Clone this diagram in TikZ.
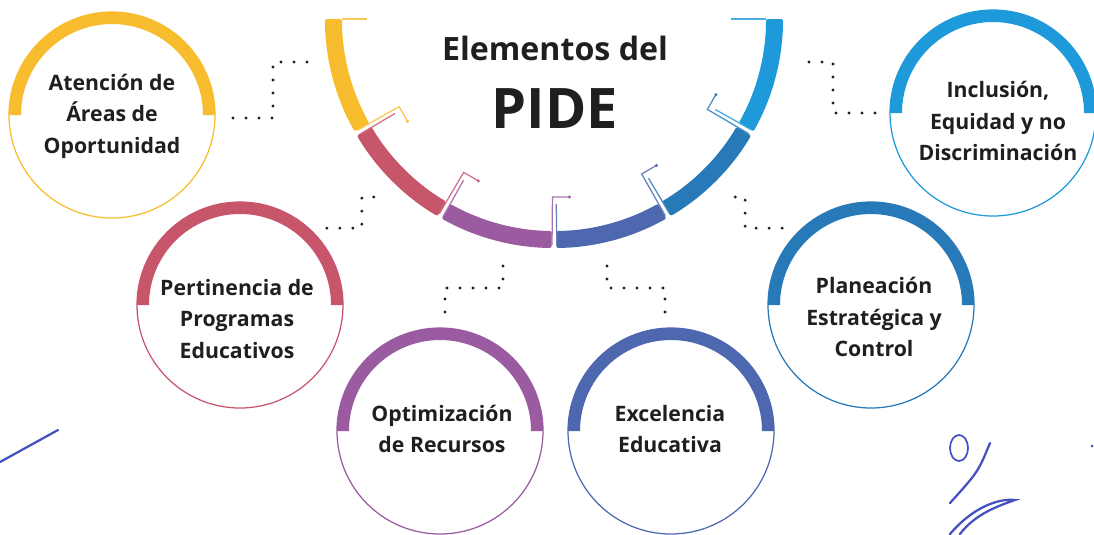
\documentclass[tikz,border=0pt]{standalone}
\usepackage{fontspec}
\setmainfont{Open Sans}
\usepackage{xcolor}
\usepackage{tikz}
\definecolor{amarillo}{HTML}{F7BD2E}
\definecolor{rosa}{HTML}{C8566B}
\definecolor{morado}{HTML}{9A5BA0}
\definecolor{azulm}{HTML}{4E68B0}
\definecolor{azul}{HTML}{2879B8}
\definecolor{celeste}{HTML}{1E9ADA}
\definecolor{tinta}{HTML}{1F1F1F}
\definecolor{pluma}{HTML}{4650C0}

\begin{document}
\begin{tikzpicture}[
		x=0.2mm, y=0.2mm,
		aro/.style={circle, draw, line width=0.25mm, minimum size=41.2mm, inner sep=0pt, outer sep=0pt},
		texto/.style={align=center, text=tinta, font=\fontsize{12.1}{17.9}\selectfont\bfseries},
		puntos/.style={draw=tinta, line width=0.65mm, line cap=round, dash pattern=on 0pt off 2.6mm},
		gancho/.style={line width=0.25mm},
		trazo/.style={draw=pluma, line width=0.45mm, line cap=round}]
		\useasboundingbox (0,0) rectangle (1094,-534);

		% semicirculo central
		\coordinate (centro) at (554,-19);
		\foreach \a/\b/\c in {180/209.4/amarillo, 210.6/239.4/rosa, 240.6/269.4/morado, 270.6/299.4/azulm, 300.6/329.4/azul, 330.6/360/celeste}
			\fill[\c, rounded corners=0.4mm] ([shift={(\a:229)}]centro) arc[start angle=\a, end angle=\b, radius=229]
				-- ([shift={(\b:212)}]centro) arc[start angle=\b, end angle=\a, radius=212] -- cycle;
		\foreach \a/\ca/\cb in {210/amarillo/rosa, 240/rosa/morado, 270/morado/azulm, 300/azulm/azul, 330/azul/celeste}{
			\draw[gancho, \ca!85] ([shift={(\a-0.5:226)}]centro) -- ([shift={(\a-0.5:178)}]centro) -- ++(\a+90:17) coordinate (g);
			\fill[\ca] (g) circle (1.6);
			\draw[gancho, \cb!85] ([shift={(\a+0.7:226)}]centro) -- ([shift={(\a+0.7:185)}]centro);
		}
		\draw[gancho, amarillo!80] ([shift={(180:212)}]centro) -- ++(25,0);
		\draw[gancho, celeste!80] ([shift={(0:212)}]centro) -- ++(-35,0);
		\node[text=tinta, font=\fontsize{18.3}{20}\selectfont\bfseries, anchor=base] (titulo) at (555,-60) {Elementos del};
		\node[text=tinta, font=\fontsize{31.8}{36}\selectfont\bfseries, anchor=base] (pide) at (555,-128) {PIDE};

		% circulos
		\node[aro, draw=amarillo] (atencion) at (112,-115) {};
		\node[aro, draw=rosa] (pertinencia) at (240,-305) {};
		\node[aro, draw=morado] (optimizacion) at (440,-431) {};
		\node[aro, draw=azulm] (excelencia) at (671,-431) {};
		\node[aro, draw=azul] (planeacion) at (871,-305) {};
		\node[aro, draw=celeste] (inclusion) at (993,-113) {};
		\fill[amarillo] (atencion.west) arc[start angle=180, end angle=0, radius=103] -- ++(-12,0) arc[start angle=0, end angle=180, radius=91] -- cycle;
		\fill[rosa] (pertinencia.west) arc[start angle=180, end angle=0, radius=103] -- ++(-12,0) arc[start angle=0, end angle=180, radius=91] -- cycle;
		\fill[morado] (optimizacion.west) arc[start angle=180, end angle=0, radius=103] -- ++(-12,0) arc[start angle=0, end angle=180, radius=91] -- cycle;
		\fill[azulm] (excelencia.west) arc[start angle=180, end angle=0, radius=103] -- ++(-12,0) arc[start angle=0, end angle=180, radius=91] -- cycle;
		\fill[azul] (planeacion.west) arc[start angle=180, end angle=0, radius=103] -- ++(-12,0) arc[start angle=0, end angle=180, radius=91] -- cycle;
		\fill[celeste] (inclusion.west) arc[start angle=180, end angle=0, radius=103] -- ++(-12,0) arc[start angle=0, end angle=180, radius=91] -- cycle;

		\node[texto] (atencionT) at (112,-116) {Atención de\\Áreas de\\Oportunidad};
		\node[texto] (pertinenciaT) at (237,-319) {Pertinencia de\\Programas\\Educativos};
		\node[texto] (optimizacionT) at (442,-429) {Optimización\\de Recursos};
		\node[texto] (excelenciaT) at (670,-429) {Excelencia\\Educativa};
		\node[texto] (planeacionT) at (874,-317) {Planeación\\Estratégica y\\Control};
		\node[texto] (inclusionT) at (998,-121) {Inclusión,\\Equidad y no\\Discriminación};

		% conectores punteados
		\coordinate (pA) at (310,-62);
		\coordinate (pB) at (385,-197);
		\coordinate (pC) at (503,-262);
		\coordinate (pD) at (607,-262);
		\coordinate (pE) at (725,-197);
		\coordinate (pF) at (797,-62);
		\draw[puntos] ([shift={(18,-3)}]atencion.east) -- ++(40,0) |- (pA);
		\draw[puntos] ([shift={(14,4)}]pertinencia.north east) -- ++(35,0) |- (pB);
		\draw[puntos] ([shift={(5,16)}]optimizacion.north) -- ++(0,24) -| (pC);
		\draw[puntos] ([shift={(-6,16)}]excelencia.north) -- ++(0,24) -| (pD);
		\draw[puntos] ([shift={(-16,4)}]planeacion.north west) -- ++(-37,0) |- (pE);
		\draw[puntos] ([shift={(-15,0)}]inclusion.west) -- ++(-42,0) |- (pF);

		% trazos de pluma
		\draw[trazo] (0,-462) -- (58,-430);
		\draw[trazo, line width=0.35mm] (959,-448) ellipse[x radius=9, y radius=13];
		\draw[trazo] (990,-443) .. controls (978,-472) .. (950,-503);
		\draw[trazo] (950,-534) .. controls (972,-508) and (998,-498) .. (1015,-500) .. controls (998,-506) and (975,-514) .. (960,-534);
		\fill[pluma] (1092,-446) circle (1.5);
	\end{tikzpicture}
\end{document}
